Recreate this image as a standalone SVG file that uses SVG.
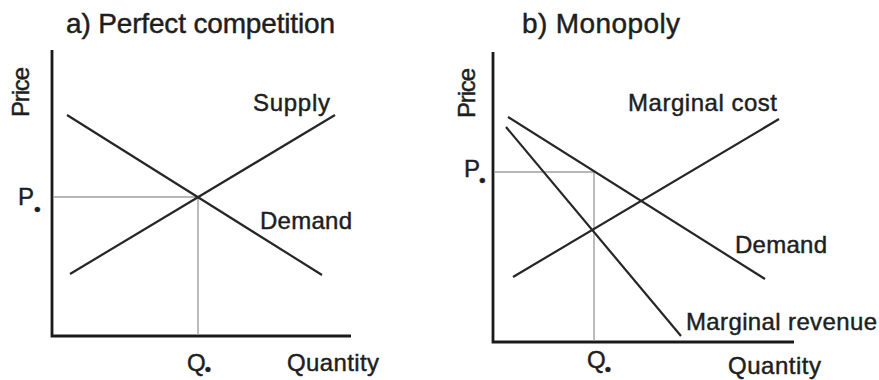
<svg xmlns="http://www.w3.org/2000/svg" width="879" height="380" viewBox="0 0 879 380">
<style>
text{font-family:"Liberation Sans",Arial,sans-serif;fill:#1e1e1e;stroke:#1e1e1e;stroke-width:0.45}
.t{font-size:28px}
.l{font-size:24px}
.ax{stroke:#1a1a1a;stroke-width:2.8;fill:none}
.cv{stroke:#262626;stroke-width:2.2;fill:none}
.gd{stroke:#a0a0a0;stroke-width:1.4;fill:none}
.dot{font-size:19px}
.dq{font-size:18px}
</style>
<rect width="879" height="380" fill="#fff"/>
<g id="panel-a">
<text class="t" x="66" y="33" textLength="269">a) Perfect competition</text>
<text class="l" transform="translate(29,92) rotate(-90)" text-anchor="middle" textLength="50">Price</text>
<path class="ax" d="M52,50 V336 H351"/>
</g>
<g id="connectors-a">
<path class="gd" d="M53,197 H198 V335"/>
<path id="demand-a" class="cv" d="M67,115 L322,275"/>
<path id="supply-a" class="cv" d="M70,274 L335,115"/>
</g>
<g id="labels-a">
<text class="l" x="253" y="111" textLength="77">Supply</text>
<text class="l" x="260" y="229" textLength="92">Demand</text>
<text class="l" x="18" y="205">P<tspan class="dot" dx="0" dy="11">•</tspan></text>
<text class="l" x="187" y="371">Q<tspan class="dq" dx="-1" dy="5">•</tspan></text>
<text class="l" x="287" y="371" textLength="92">Quantity</text>
</g>
<g id="panel-b">
<text class="t" x="522" y="33" textLength="158">b) Monopoly</text>
<text class="l" transform="translate(475,93) rotate(-90)" text-anchor="middle" textLength="50">Price</text>
<path class="ax" d="M493,52 V342 H794"/>
</g>
<g id="connectors-b">
<path class="gd" d="M494,172 H594 V341"/>
<path id="demand-b" class="cv" d="M508,117 L765,279"/>
<path id="mr-b" class="cv" d="M506,127 L681,336"/>
<path id="mc-b" class="cv" d="M513,277 L779,119"/>
</g>
<g id="labels-b">
<text class="l" x="628" y="111" textLength="149">Marginal cost</text>
<text class="l" x="735" y="253" textLength="92">Demand</text>
<text class="l" x="686" y="330" textLength="191">Marginal revenue</text>
<text class="l" x="464" y="177">P<tspan class="dot" dx="-1" dy="10">•</tspan></text>
<text class="l" x="587" y="368">Q<tspan class="dq" dx="-1" dy="8">•</tspan></text>
<text class="l" x="728" y="374" textLength="93">Quantity</text>
</g>
</svg>
